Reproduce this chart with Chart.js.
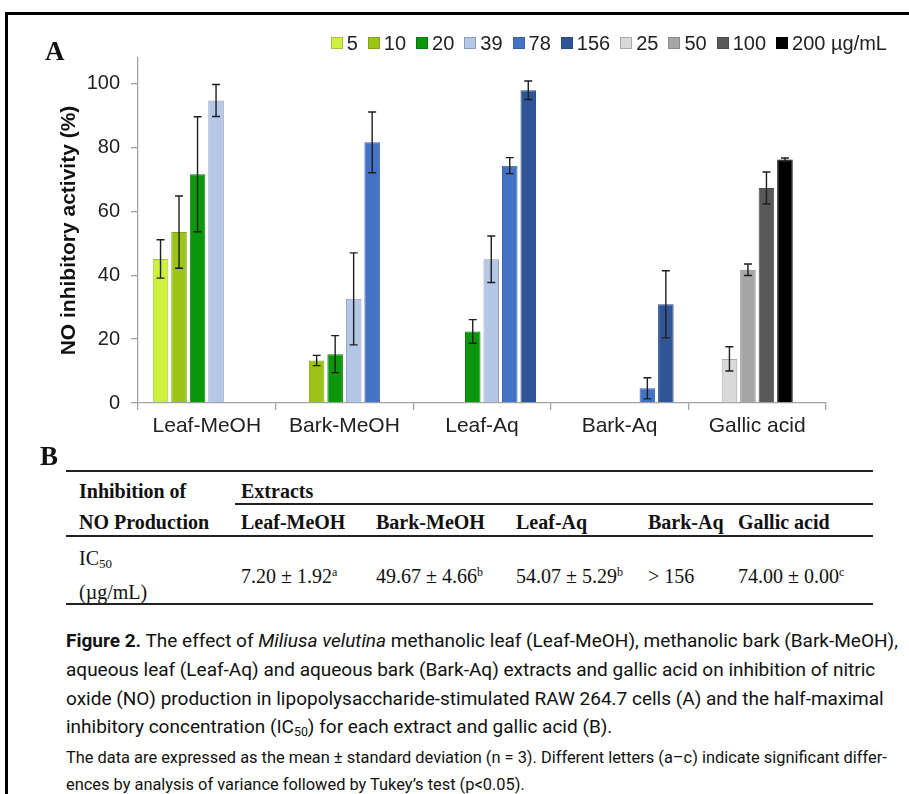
<!DOCTYPE html>
<html>
<head>
<meta charset="utf-8">
<script src="https://cdn.jsdelivr.net/npm/chart.js@4.4.1/dist/chart.umd.min.js"></script>
<style>
    body { margin: 0; width: 909px; height: 794px; overflow: hidden; position: relative; background: #fff; }
    #frame { position: absolute; left: 5px; top: 12px; width: 1000px; height: 900px; border: 3px solid #000; }
    #chartBox { position: absolute; left: 0; top: 0; width: 909px; height: 450px; }
    .panel { position: absolute; font-family: "Liberation Serif", serif; font-weight: bold; font-size: 27px; color: #111; }
    #legend { position: absolute; top: 32px; right: 22px; font-family: "Liberation Sans", Arial, sans-serif; font-size: 20px; color: #222; white-space: nowrap; }
    #legend .item { display: inline-block; margin-left: 10px; }
    #legend i { display: inline-block; width: 10px; height: 10px; border: 1px solid #777; margin-right: 4px; vertical-align: 1px; }
    #tableB { position: absolute; left: 0; top: 0; font-family: "Liberation Serif", serif; font-size: 20px; color: #111; }
    #tableB div { position: absolute; white-space: nowrap; }
    #tableB .rule { background: #222; }
    #tableB .head { font-weight: bold; }
    #caption { position: absolute; left: 66px; top: 627px; font-family: Roboto, sans-serif; font-size: 19px; line-height: 28.8px; color: #111; white-space: nowrap; }
    #note { position: absolute; left: 66px; top: 744px; font-family: Roboto, sans-serif; font-size: 16.4px; line-height: 27px; color: #111; white-space: nowrap; }
    sub { font-size: 0.65em; vertical-align: -0.25em; }
    sup { font-size: 0.6em; vertical-align: 0.6em; }
</style>
</head>
<body>
<div id="frame"></div>
<div id="chartBox"><canvas id="myChart"></canvas></div>
<div class="panel" style="left:45px; top:36px;">A</div>
<div class="panel" style="left:40px; top:441px;">B</div>
<div id="legend"></div>
<div id="tableB"></div>
<div id="caption">
    <div><b>Figure 2.</b> The effect of <i>Miliusa velutina</i> methanolic leaf (Leaf-MeOH), methanolic bark (Bark-MeOH),</div>
    <div>aqueous leaf (Leaf-Aq) and aqueous bark (Bark-Aq) extracts and gallic acid on inhibition of nitric</div>
    <div>oxide (NO) production in lipopolysaccharide-stimulated RAW 264.7 cells (A) and the half-maximal</div>
    <div>inhibitory concentration (IC<sub>50</sub>) for each extract and gallic acid (B).</div>
</div>
<div id="note">
    <div>The data are expressed as the mean ± standard deviation (n = 3). Different letters (a–c) indicate significant differ-</div>
    <div>ences by analysis of variance followed by Tukey’s test (p&lt;0.05).</div>
</div>
<script>
// Panel A data (NO inhibitory activity, %) per concentration, one value per extract
const extracts = ["Leaf-MeOH", "Bark-MeOH", "Leaf-Aq", "Bark-Aq", "Gallic acid"];
const doseLabels = ["5", "10", "20", "39", "78", "156", "25", "50", "100", "200 µg/mL"];

const mean5 = [45.1, null, null, null, null];
const mean10 = [53.5, 13.3, null, null, null];
const mean20 = [71.6, 15.3, 22.4, null, null];
const mean39 = [94.7, 32.6, 45.0, null, null];
const mean78 = [null, 81.6, 74.3, 4.6, null];
const mean156 = [null, null, 97.9, 30.9, null];
const mean25 = [null, null, null, null, 13.8];
const mean50 = [null, null, null, null, 41.7];
const mean100 = [null, null, null, null, 67.3];
const mean200 = [null, null, null, null, 76.2];

const sd5 = [6.0, null, null, null, null];
const sd10 = [11.3, 1.6, null, null, null];
const sd20 = [18.0, 5.8, 3.7, null, null];
const sd39 = [5.0, 14.4, 7.3, null, null];
const sd78 = [null, 9.5, 2.5, 3.3, null];
const sd156 = [null, null, 2.9, 10.5, null];
const sd25 = [null, null, null, null, 3.8];
const sd50 = [null, null, null, null, 1.8];
const sd100 = [null, null, null, null, 5.0];
const sd200 = [null, null, null, null, 0.5];

const yTicks = [0, 20, 40, 60, 80, 100];

// Panel B data (IC50, µg/mL)
const ic50Values = ["7.20 ± 1.92", "49.67 ± 4.66", "54.07 ± 5.29", "> 156", "74.00 ± 0.00"];
const ic50Letters = ["a", "b", "b", "", "c"];

const means = [mean5, mean10, mean20, mean39, mean78, mean156, mean25, mean50, mean100, mean200];
const sds = [sd5, sd10, sd20, sd39, sd78, sd156, sd25, sd50, sd100, sd200];

const fills = ["#cdf23e", "#9cc415", "#0b960b", "#b4c7e7", "#4472c4", "#2f5597", "#d9d9d9", "#a6a6a6", "#595959", "#000000"];
const edges = ["#a7bf52", "#83a31c", "#0b7a0b", "#8e9cb6", "#3b62a8", "#284a85", "#a9a9a9", "#8a8a8a", "#4a4a4a", "#000000"];
// gallic acid doses share the slots of the extract doses
const slots = ["s0", "s1", "s2", "s3", "s4", "s5", "s1", "s2", "s3", "s4"];

// Draw the mean ± SD whiskers on top of every bar
const errorBars = {
    id: "errorBars",
    afterDatasetsDraw(chart) {
        const ctx = chart.ctx;
        const yScale = chart.scales.y;
        ctx.save();
        ctx.strokeStyle = "#1e1e1e";
        ctx.lineWidth = 1.4;
        chart.data.datasets.forEach((ds, i) => {
            const meta = chart.getDatasetMeta(i);
            ds.data.forEach((v, j) => {
                const e = sds[i][j];
                if (v === null || e === null) return;
                const x = meta.data[j].x;
                const top = yScale.getPixelForValue(v + e);
                const bottom = yScale.getPixelForValue(v - e);
                ctx.beginPath();
                ctx.moveTo(x, top);
                ctx.lineTo(x, bottom);
                ctx.moveTo(x - 4, top);
                ctx.lineTo(x + 4, top);
                ctx.moveTo(x - 4, bottom);
                ctx.lineTo(x + 4, bottom);
                ctx.stroke();
            });
        });
        ctx.restore();
    }
};

const axisGrey = "#a3a3a3";

const myChart = new Chart(document.getElementById("myChart"), {
    type: "bar",
    data: {
        labels: extracts,
        datasets: doseLabels.map((label, i) => ({
            label,
            data: means[i],
            stack: slots[i],
            backgroundColor: fills[i],
            borderColor: edges[i],
            borderWidth: 1,
            categoryPercentage: 0.807,
            barPercentage: 0.84
        }))
    },
    options: {
        responsive: true,
        maintainAspectRatio: false,
        devicePixelRatio: 1,
        animation: false,
        layout: { padding: { top: 58, right: 83, left: 0, bottom: 0 } },
        plugins: {
            legend: { display: false },
            tooltip: { enabled: false }
        },
        scales: {
            x: {
                offset: true,
                grid: { offset: true, drawOnChartArea: false, color: axisGrey, tickLength: 7, lineWidth: 1.3 },
                border: { color: axisGrey, width: 1.3 },
                ticks: { color: "#222", font: { size: 21 }, padding: 4 },
                afterFit(scale) { scale.height = 47; }
            },
            y: {
                stacked: false,
                min: 0,
                max: 108,
                grid: { drawOnChartArea: false, color: axisGrey, tickLength: 7, lineWidth: 1.3 },
                border: { color: axisGrey, width: 1.3 },
                ticks: { stepSize: 20, includeBounds: false, color: "#222", font: { size: 20 }, padding: 11 },
                afterBuildTicks(scale) {
                    scale.ticks = yTicks.map(v => ({ value: v }));
                },
                title: {
                    display: true,
                    text: "NO inhibitory activity (%)",
                    color: "#111",
                    font: { size: 21, weight: "bold" },
                    padding: { top: 57, bottom: 0 }
                },
                afterFit(scale) { scale.width = 138; }
            }
        }
    },
    plugins: [errorBars]
});

// Legend as html, built from the datasets
const legendEl = document.querySelector("#legend");
myChart.data.datasets.forEach(ds => {
    const item = document.createElement("span");
    item.className = "item";
    item.innerHTML = `<i style="background:${ds.backgroundColor};border-color:${ds.borderColor}"></i>${ds.label}`;
    legendEl.appendChild(item);
});

// Panel B table
function populateTable() {
    const tableEl = document.querySelector("#tableB");
    const colX = [79, 241, 376, 516, 648, 738];
    const add = (html, x, y, cls) => {
        const el = document.createElement("div");
        if (cls) el.className = cls;
        el.style.left = x + "px";
        el.style.top = y + "px";
        el.innerHTML = html;
        tableEl.appendChild(el);
        return el;
    };
    const rule = (x1, x2, y, h) => {
        const el = add("", x1, y, "rule");
        el.style.width = (x2 - x1) + "px";
        el.style.height = h + "px";
    };

    rule(66, 873, 470, 2);
    add("Inhibition of", colX[0], 480, "head");
    add("Extracts", colX[1], 480, "head");
    rule(235, 873, 503, 1.5);
    add("NO Production", colX[0], 511, "head");
    extracts.forEach((name, i) => add(name, colX[i + 1], 511, "head"));
    rule(66, 873, 535, 2);
    add("IC<sub>50</sub>", colX[0], 547);
    add("(µg/mL)", colX[0], 581);
    ic50Values.forEach((v, i) => {
        const sup = ic50Letters[i] ? `<sup>${ic50Letters[i]}</sup>` : "";
        add(v + sup, colX[i + 1], 565);
    });
    rule(66, 873, 603, 2);
}

populateTable();
</script>
</body>
</html>
